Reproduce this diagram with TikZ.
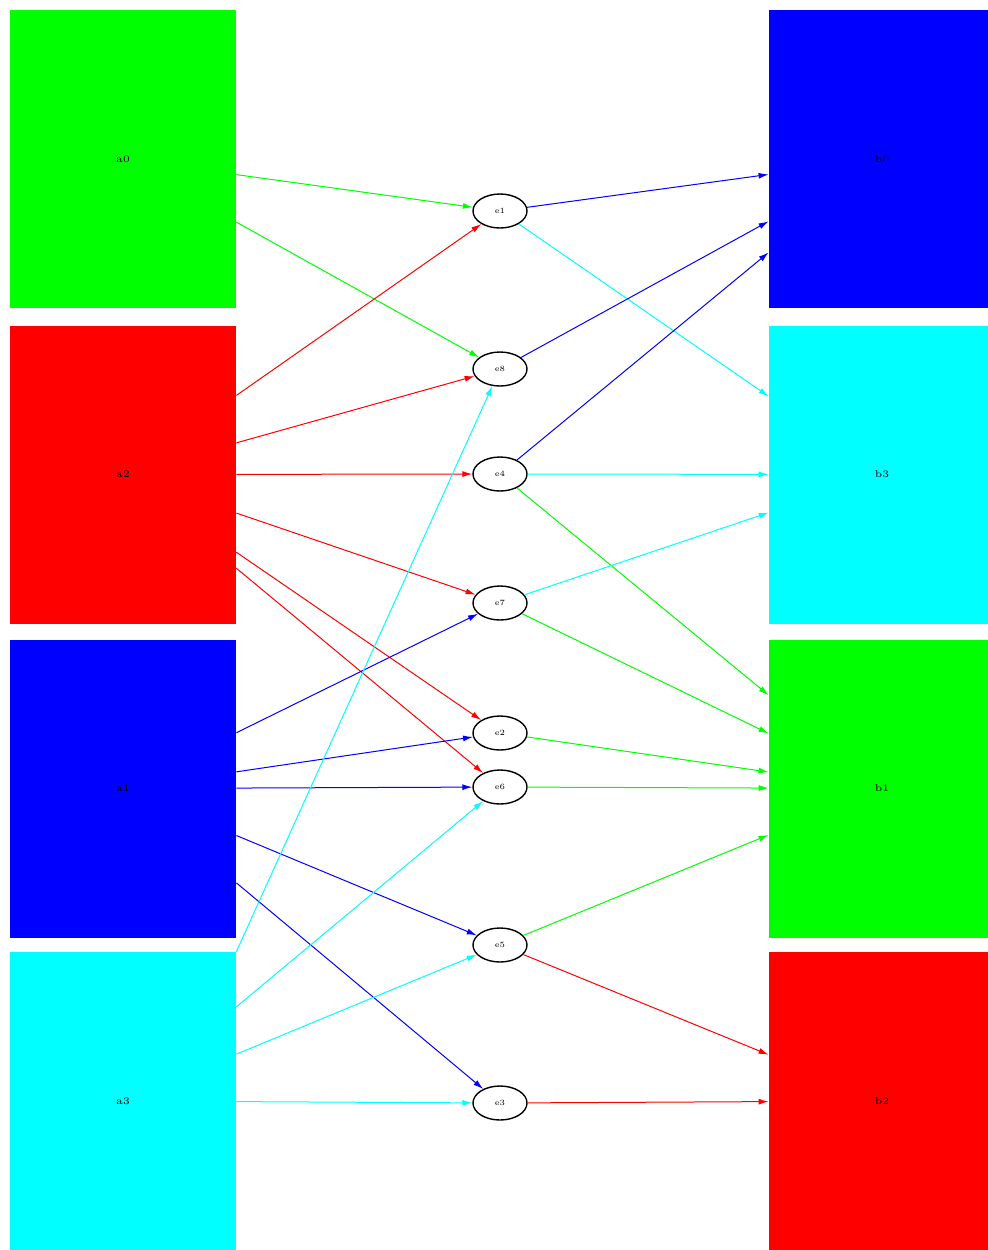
\documentclass[tikz,border=0pt]{standalone}
\usepackage{tikz}
\usetikzlibrary{shapes.geometric,arrows.meta}
\definecolor{aqua}{RGB}{0,255,255}
\definecolor{lime}{RGB}{0,255,0}
\tikzset{
  part/.style={rectangle, minimum width=113pt, minimum height=149pt, inner sep=0pt, font=\fontsize{5}{6}\selectfont},
  hub/.style={ellipse, draw, line width=0.7pt, minimum width=27pt, minimum height=17pt, inner sep=0pt, font=\fontsize{4}{5}\selectfont},
  conn/.style={->, line width=0.5pt}
}

\begin{document}
\begin{tikzpicture}[x=0.5pt,y=-0.5pt, >={Latex[length=5pt,width=3pt]}]
  \clip (0,0) rectangle (988,1250);
  \node[part,fill=lime] (a0) at (123,159) {a0};
  \node[part,fill=red] (a2) at (123,474.5) {a2};
  \node[part,fill=blue] (a1) at (123,788.5) {a1};
  \node[part,fill=aqua] (a3) at (123,1101) {a3};
  \node[part,fill=blue] (b0) at (882,159) {b0};
  \node[part,fill=aqua] (b3) at (882,474.5) {b3};
  \node[part,fill=lime] (b1) at (882,788.5) {b1};
  \node[part,fill=red] (b2) at (882,1101) {b2};
  \node[hub] (e1) at (500,211) {e1};
  \node[hub] (e8) at (500,369) {e8};
  \node[hub] (e4) at (500,474) {e4};
  \node[hub] (e7) at (500,603) {e7};
  \node[hub] (e2) at (500,733) {e2};
  \node[hub] (e6) at (500,787) {e6};
  \node[hub] (e5) at (500,945) {e5};
  \node[hub] (e3) at (500,1103) {e3};
  \draw[conn,lime] (a0) -- (e1);
  \draw[conn,lime] (a0) -- (e8);
  \draw[conn,red] (a2) -- (e1);
  \draw[conn,red] (a2) -- (e8);
  \draw[conn,red] (a2) -- (e4);
  \draw[conn,red] (a2) -- (e7);
  \draw[conn,red] (a2) -- (e2);
  \draw[conn,red] (a2) -- (e6);
  \draw[conn,blue] (a1) -- (e7);
  \draw[conn,blue] (a1) -- (e2);
  \draw[conn,blue] (a1) -- (e6);
  \draw[conn,blue] (a1) -- (e5);
  \draw[conn,blue] (a1) -- (e3);
  \draw[conn,aqua] (a3.north east) -- (e8);
  \draw[conn,aqua] (a3) -- (e6);
  \draw[conn,aqua] (a3) -- (e5);
  \draw[conn,aqua] (a3) -- (e3);
  \draw[conn,blue] (e1) -- (b0);
  \draw[conn,aqua] (e1) -- (b3);
  \draw[conn,blue] (e8) -- (b0);
  \draw[conn,blue] (e4) -- (b0);
  \draw[conn,aqua] (e4) -- (b3);
  \draw[conn,lime] (e4) -- (b1);
  \draw[conn,aqua] (e7) -- (b3);
  \draw[conn,lime] (e7) -- (b1);
  \draw[conn,lime] (e2) -- (b1);
  \draw[conn,lime] (e6) -- (b1);
  \draw[conn,lime] (e5) -- (b1);
  \draw[conn,red] (e5) -- (b2);
  \draw[conn,red] (e3) -- (b2);
\end{tikzpicture}
\end{document}
